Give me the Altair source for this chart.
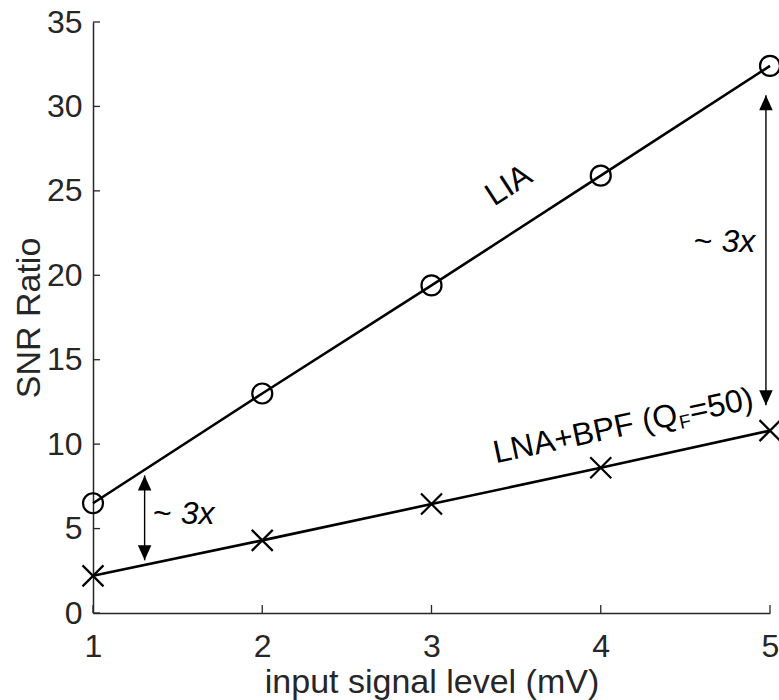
import altair as alt
import pandas as pd

# ---------------- data ----------------
x_vals = [1, 2, 3, 4, 5]
lia_snr = [6.5, 13.0, 19.4, 25.9, 32.4]
lna_snr = [2.2, 4.3, 6.45, 8.6, 10.8]
y_ticks = [0, 5, 10, 15, 20, 25, 30, 35]
x_ticks = [1, 2, 3, 4, 5]

# annotation arrows (~3x)
arrow_x = [1.305, 4.976]
arrow_top = [8.15, 30.66]
arrow_bottom = [3.12, 12.3]
ratio_x = [1.355, 4.55]
ratio_y = [5.25, 21.4]

lia_label_x = [3.456]
lia_label_y = [25.33]
lna_label_x = [3.379]
lna_label_y = [8.865]

# ---------------- layout / style ----------------
W, H = 677, 591
FONT = "Liberation Sans"
AX = "#262626"
TICK_FS = 32
TITLE_FS = 34
ANN_FS = 32

xs = alt.Scale(domain=[1, 5], nice=False, zero=False)
ys = alt.Scale(domain=[0, 35], nice=False, zero=False)

xaxis = alt.Axis(title="input signal level (mV)", values=x_ticks, format="d",
                 ticks=False, grid=False, labelPadding=18, labelFlush=False,
                 labelOverlap=False, labelBound=False,
                 titleBaseline="alphabetic", titleY=79)
yaxis = alt.Axis(title="SNR Ratio", values=y_ticks, format="d",
                 ticks=False, grid=False, labelPadding=11, labelFlush=False,
                 labelOverlap=False, labelBound=False,
                 titleBaseline="alphabetic", titleX=-54)


def X(f="x"):
    return alt.X(f"{f}:Q", scale=xs, axis=xaxis)


def Y(f="y"):
    return alt.Y(f"{f}:Q", scale=ys, axis=yaxis)


lia_df = pd.DataFrame({"x": x_vals, "y": lia_snr})
lna_df = pd.DataFrame({"x": x_vals, "y": lna_snr})

lines = alt.layer(
    alt.Chart(lia_df).mark_line(color="black", strokeWidth=2.6).encode(x=X(), y=Y()),
    alt.Chart(lna_df).mark_line(color="black", strokeWidth=2.6).encode(x=X(), y=Y()),
)

circles = alt.Chart(lia_df).mark_point(
    shape="circle", filled=False, size=400, color="black", strokeWidth=2.2, opacity=1
).encode(x=X(), y=Y())

crosses = alt.Chart(lna_df).mark_point(
    shape="M-1,-1L1,1M1,-1L-1,1", filled=False, size=441, color="black",
    strokeWidth=2.2, opacity=1
).encode(x=X(), y=Y())

# inward ticks
ytick_df = pd.DataFrame({"y": y_ticks})
xtick_df = pd.DataFrame({"x": x_ticks})
yticks = alt.Chart(ytick_df).mark_rule(color=AX, strokeWidth=1.3).encode(
    y=Y(), x=alt.value(0), x2=alt.value(7))
xticks = alt.Chart(xtick_df).mark_rule(color=AX, strokeWidth=1.3).encode(
    x=X(), y=alt.value(H), y2=alt.value(H - 8))

# arrows
arr_df = pd.DataFrame({"x": arrow_x, "y": arrow_top, "y2": arrow_bottom})
arrow_lines = alt.Chart(arr_df).mark_rule(color="black", strokeWidth=1.4).encode(
    x=X(), y=Y(), y2="y2:Q")
heads_up = alt.Chart(arr_df).mark_point(
    shape="M0,0L-0.45,1L0.45,1Z", filled=True, size=900, color="black", opacity=1,
    strokeWidth=0
).encode(x=X(), y=Y())
heads_down = alt.Chart(arr_df).mark_point(
    shape="M0,0L-0.45,-1L0.45,-1Z", filled=True, size=900, color="black", opacity=1,
    strokeWidth=0
).encode(x=X(), y=Y("y2"))

ratio_df = pd.DataFrame({"x": ratio_x, "y": ratio_y})
tilde = alt.Chart(ratio_df).mark_text(
    text="~", font=FONT, fontSize=ANN_FS, align="left", baseline="alphabetic",
    color="black").encode(x=X(), y=Y())
three_x = alt.Chart(ratio_df).mark_text(
    text="3x", font=FONT, fontSize=ANN_FS, fontStyle="italic", align="left",
    baseline="alphabetic", dx=ANN_FS * 0.862, color="black").encode(x=X(), y=Y())

lia_df_lbl = pd.DataFrame({"x": lia_label_x, "y": lia_label_y})
lia_lbl = alt.Chart(lia_df_lbl).mark_text(
    text="LIA", font=FONT, fontSize=ANN_FS, angle=327, align="center",
    baseline="middle", color="black").encode(x=X(), y=Y())

lna_df_lbl = pd.DataFrame({"x": lna_label_x, "y": lna_label_y})
SUB_FS = 19
w1 = ANN_FS * 5.863
lna1 = alt.Chart(lna_df_lbl).mark_text(
    text="LNA+BPF (Q", font=FONT, fontSize=ANN_FS, angle=348, align="left",
    baseline="alphabetic", color="black").encode(x=X(), y=Y())
lna2 = alt.Chart(lna_df_lbl).mark_text(
    text="F", font=FONT, fontSize=SUB_FS, angle=348, align="left",
    baseline="alphabetic", dx=w1 + 0.5, dy=5, color="black").encode(x=X(), y=Y())
lna3 = alt.Chart(lna_df_lbl).mark_text(
    text="=50)", font=FONT, fontSize=ANN_FS, angle=348, align="left",
    baseline="alphabetic", dx=w1 + SUB_FS * 0.611 + 1, color="black").encode(x=X(), y=Y())

chart = alt.layer(
    lines, arrow_lines, heads_up, heads_down, circles, crosses,
    yticks, xticks, tilde, three_x, lia_lbl, lna1, lna2, lna3
).properties(
    width=W, height=H,
    autosize=alt.AutoSizeParams(type="none"),
    padding={"left": 93, "top": 22, "right": 9, "bottom": 87},
    background="white",
).configure_view(stroke=None).configure_axis(
    domainColor=AX, domainWidth=1.5, labelColor=AX, titleColor=AX,
    labelFont=FONT, titleFont=FONT, labelFontSize=TICK_FS, titleFontSize=TITLE_FS,
    titleFontWeight="normal",
)

chart.save("out.html", embed_options={"renderer": "svg", "actions": False})
